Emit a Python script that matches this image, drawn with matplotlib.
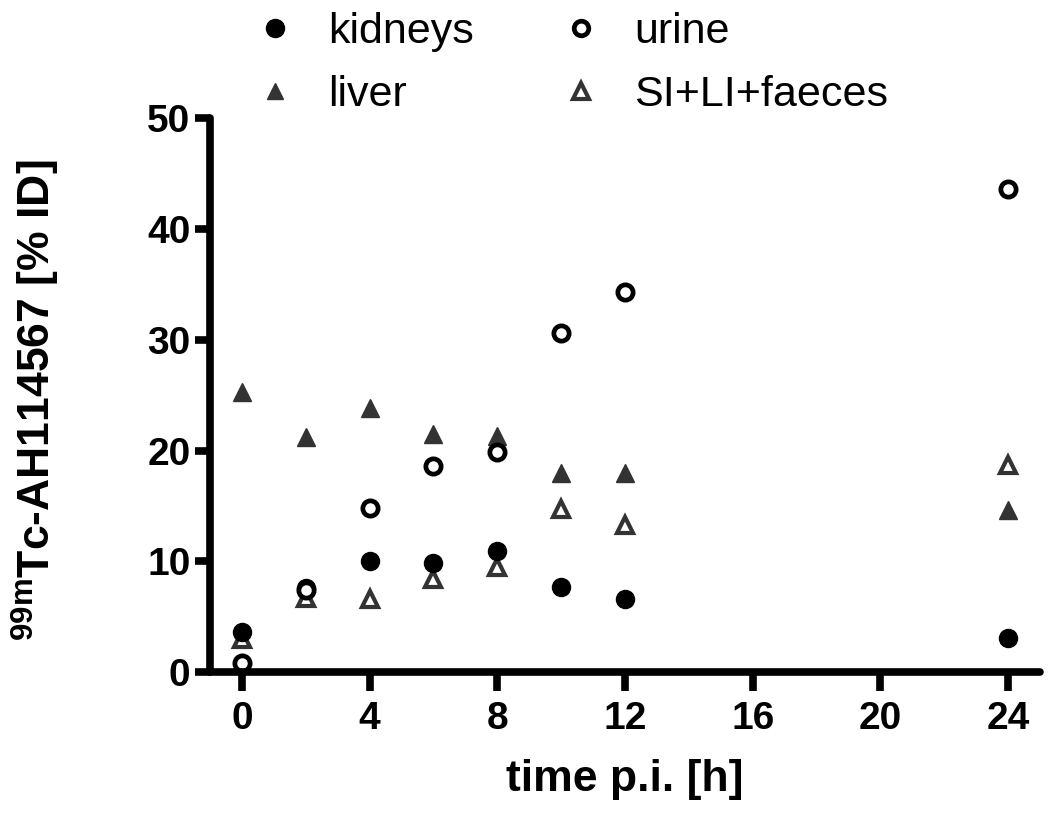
import matplotlib
matplotlib.use("Agg")
import matplotlib.pyplot as plt
from matplotlib.lines import Line2D

plt.rcParams['font.family'] = ['Liberation Sans', 'DejaVu Sans']
plt.rcParams['mathtext.fontset'] = 'custom'
plt.rcParams['mathtext.rm'] = 'Liberation Sans:bold'
plt.rcParams['mathtext.bf'] = 'Liberation Sans:bold'
plt.rcParams['mathtext.default'] = 'bf'

time_h = [0, 2, 4, 6, 8, 10, 12, 24]
kidneys = [3.6, 7.6, 10.0, 9.8, 10.9, 7.7, 6.6, 3.1]
urine_t = [0, 2, 4, 6, 8, 10, 12, 24]
urine = [0.8, 7.4, 14.8, 18.6, 19.9, 30.6, 34.3, 43.6]
liver = [25.3, 21.2, 23.8, 21.5, 21.3, 18.0, 18.0, 14.6]
sili = [3.0, 6.7, 6.6, 8.4, 9.5, 14.7, 13.3, 18.7]

xticks = [0, 4, 8, 12, 16, 20, 24]
yticks = [0, 10, 20, 30, 40, 50]

fig = plt.figure(figsize=(10.5, 8.16), dpi=100)
ax = fig.add_axes([0.2, 0.1765, 0.7905, 0.6785])

dark = '#333333'
ax.plot(time_h, liver, linestyle='none', marker='^', markersize=12.5, color=dark, clip_on=False)
ax.plot(time_h, sili, linestyle='none', marker='^', markersize=12, markerfacecolor='white',
        markeredgecolor=dark, markeredgewidth=3, clip_on=False)
ax.plot(time_h, kidneys, linestyle='none', marker='o', markersize=13, color='black', clip_on=False)
ax.plot(urine_t, urine, linestyle='none', marker='o', markersize=11, markerfacecolor='white',
        markeredgecolor='black', markeredgewidth=3.4, clip_on=False)

ax.set_xlim(-1, 25)
ax.set_ylim(0, 50)
ax.set_xticks(xticks)
ax.set_yticks(yticks)
for s in ['top', 'right']:
    ax.spines[s].set_visible(False)
for s in ['left', 'bottom']:
    ax.spines[s].set_linewidth(5.5)
    ax.spines[s].set_capstyle('round')
ax.tick_params(axis='both', width=5.5, labelsize=28)
ax.tick_params(axis='y', length=11, pad=3)
ax.tick_params(axis='x', length=14, pad=7)
for lab in ax.get_xticklabels() + ax.get_yticklabels():
    lab.set_fontweight('bold')

ax.set_xlabel('time p.i. [h]', fontsize=32, fontweight='bold', labelpad=16)
ax.set_ylabel(r'$^{99m}$Tc-AH114567 [% ID]', fontsize=32, fontweight='bold')
ax.yaxis.set_label_coords(36 / 1050, 0.51, transform=fig.transFigure)
ax.yaxis.label.set_verticalalignment('center')

handles = [
    Line2D([], [], linestyle='none', marker='o', markersize=13, color='black'),
    Line2D([], [], linestyle='none', marker='^', markersize=12, color=dark),
    Line2D([], [], linestyle='none', marker='o', markersize=10.5, markerfacecolor='white',
           markeredgecolor='black', markeredgewidth=3.4),
    Line2D([], [], linestyle='none', marker='^', markersize=12, markerfacecolor='white',
           markeredgecolor=dark, markeredgewidth=3),
]
labels = ['kidneys', 'liver', 'urine', 'SI+LI+faeces']
fig.legend(handles, labels, ncol=2, loc='upper left', bbox_to_anchor=(253.5 / 1050, 0.985),
           frameon=False, fontsize=31, handletextpad=0.73, columnspacing=2.0,
           labelspacing=0.53, handlelength=1.0, borderpad=0, borderaxespad=0)

fig.savefig('out.png', dpi=100)
